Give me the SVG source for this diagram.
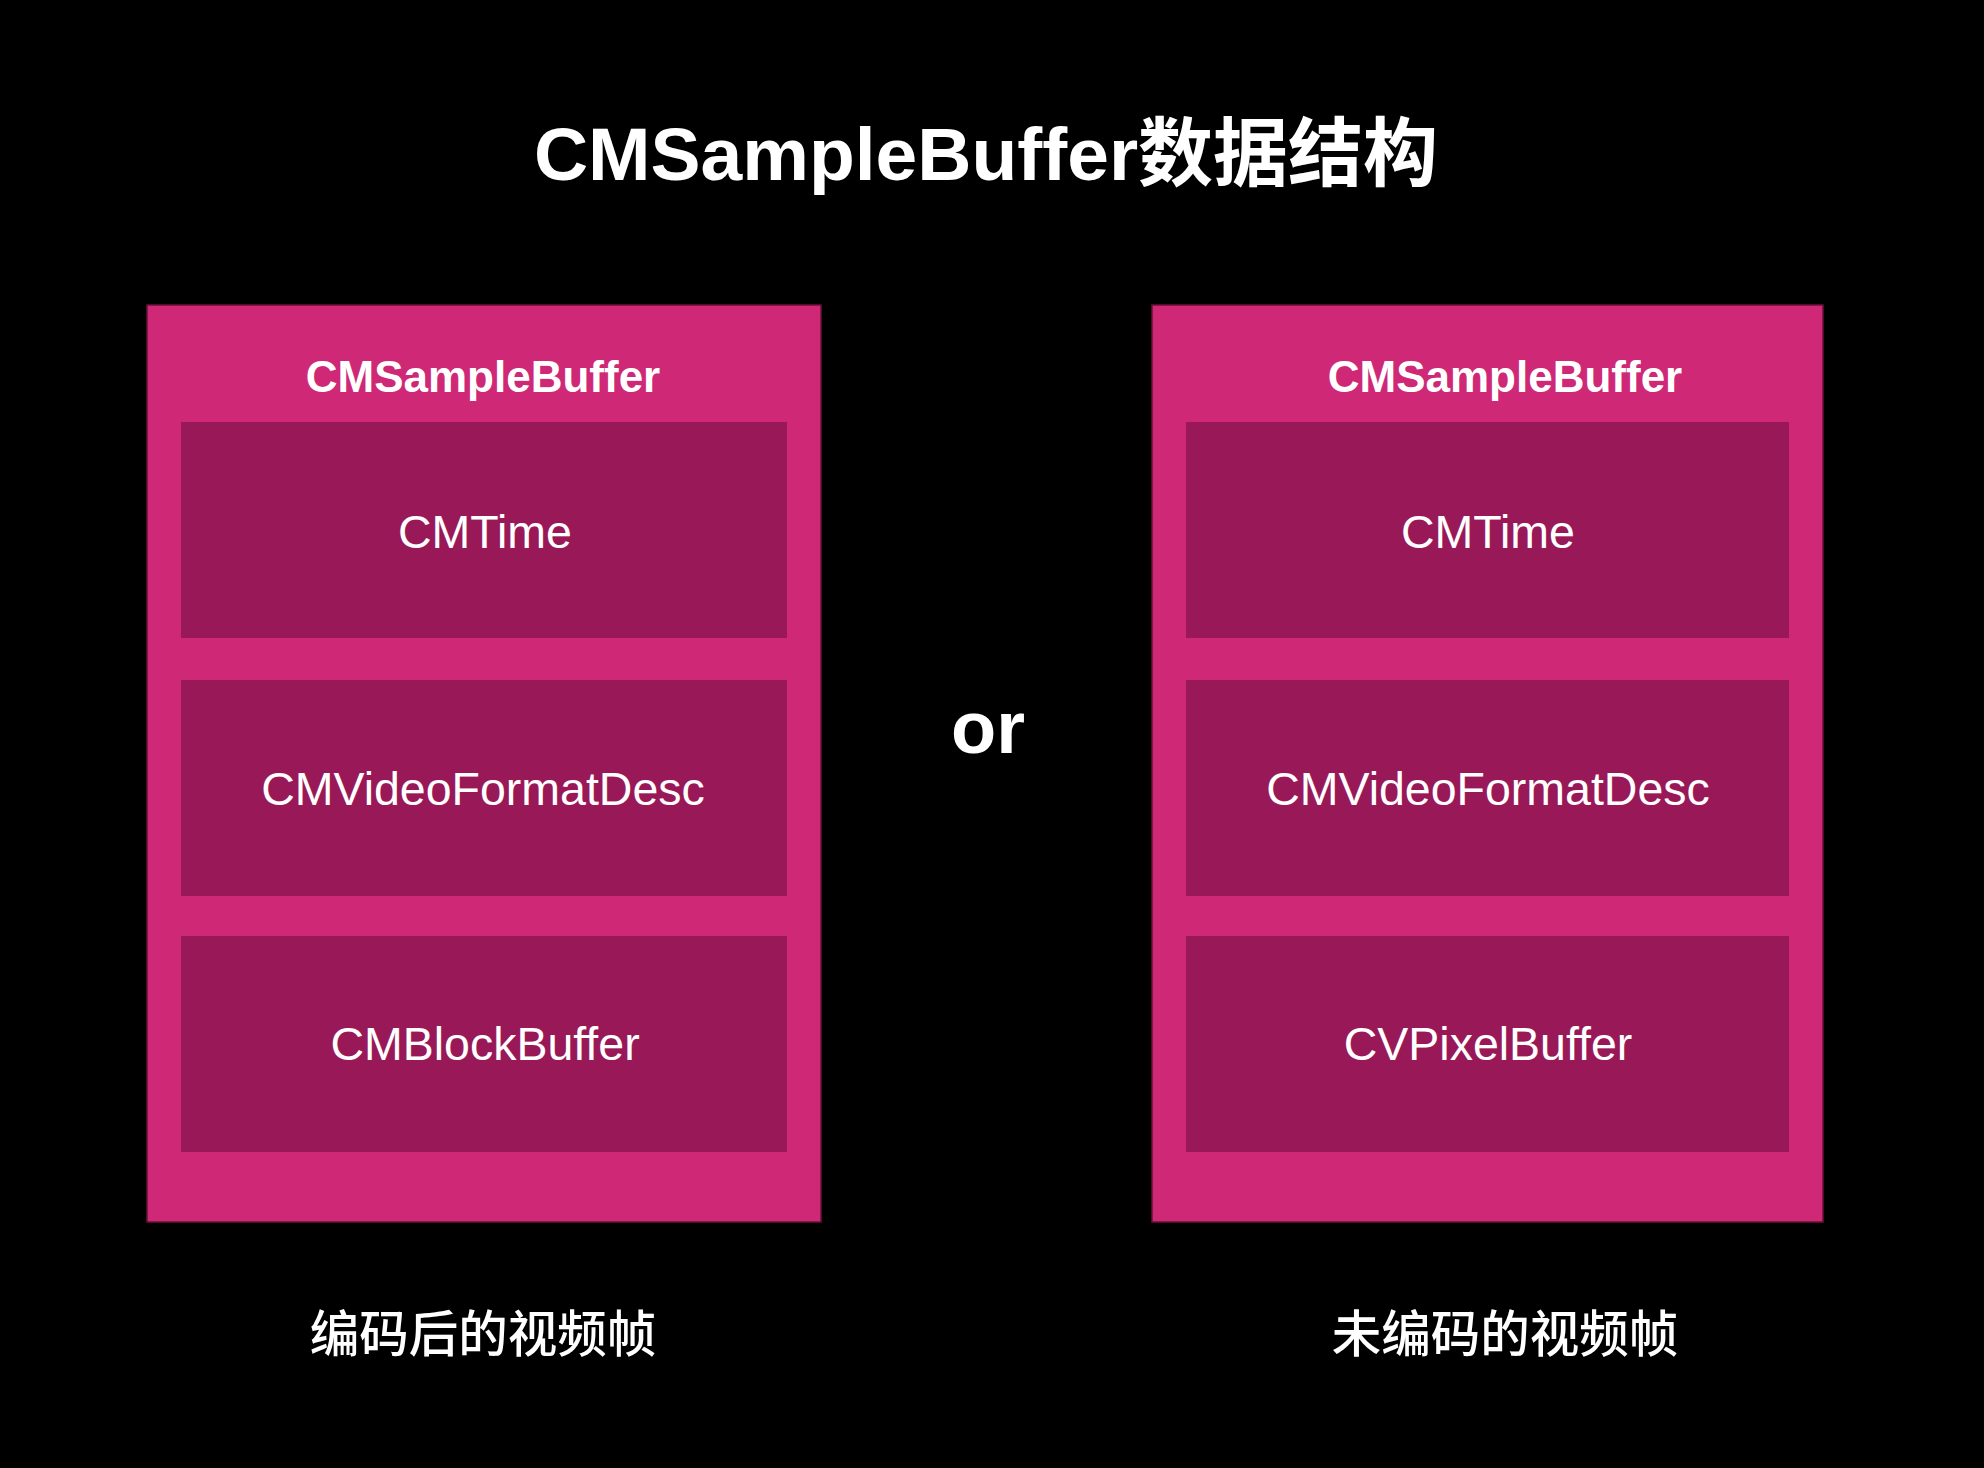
<svg xmlns="http://www.w3.org/2000/svg" width="1984" height="1468" viewBox="0 0 1984 1468">
<style>
.outer{fill:#CE2876;stroke:#6a1238;stroke-width:1.5}
.inner{fill:#991858}
.t{font-family:"Liberation Sans","Noto Sans CJK SC",sans-serif;fill:#ffffff;text-anchor:middle}
.title{font-size:75px;font-weight:bold}
.hdr{font-size:44px;font-weight:bold}
.item{font-size:46.5px}
.or{font-size:74px;font-weight:bold}
.cap{font-family:"Noto Sans CJK SC",sans-serif;font-size:49.5px;font-weight:500;fill:#ffffff;text-anchor:middle}
</style>
<rect width="1984" height="1468" fill="#000000"/>
<text class="t title" x="986" y="180">CMSampleBuffer数据结构</text>
<g id="left-buffer">
<rect class="outer" x="147" y="305" width="674" height="917"/>
<text class="t hdr" x="483" y="392">CMSampleBuffer</text>
</g>
<g id="left-time">
<rect class="inner" x="181" y="422" width="606" height="216"/>
<text class="t item" x="485" y="548">CMTime</text>
</g>
<g id="left-format">
<rect class="inner" x="181" y="680" width="606" height="216"/>
<text class="t item" x="483" y="805">CMVideoFormatDesc</text>
</g>
<g id="left-block">
<rect class="inner" x="181" y="936" width="606" height="216"/>
<text class="t item" x="485" y="1060">CMBlockBuffer</text>
</g>
<g id="or-label">
<text class="t or" x="988" y="753">or</text>
</g>
<g id="right-buffer">
<rect class="outer" x="1152" y="305" width="671" height="917"/>
<text class="t hdr" x="1505" y="392">CMSampleBuffer</text>
</g>
<g id="right-time">
<rect class="inner" x="1186" y="422" width="603" height="216"/>
<text class="t item" x="1488" y="548">CMTime</text>
</g>
<g id="right-format">
<rect class="inner" x="1186" y="680" width="603" height="216"/>
<text class="t item" x="1488" y="805">CMVideoFormatDesc</text>
</g>
<g id="right-pixel">
<rect class="inner" x="1186" y="936" width="603" height="216"/>
<text class="t item" x="1488" y="1060">CVPixelBuffer</text>
</g>
<g id="left-caption">
<text class="cap" x="483" y="1352">编码后的视频帧</text>
</g>
<g id="right-caption">
<text class="cap" x="1505" y="1352">未编码的视频帧</text>
</g>
<g id="connectors"/>
</svg>
